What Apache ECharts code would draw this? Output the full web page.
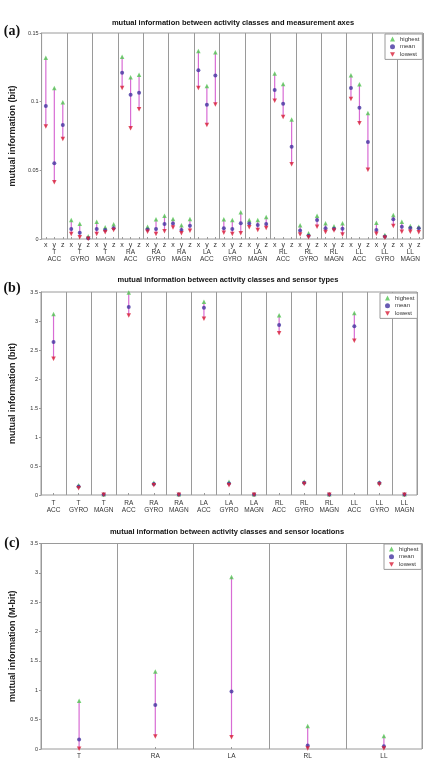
<!DOCTYPE html>
<html>
<head>
<meta charset="utf-8">
<script src="https://cdn.jsdelivr.net/npm/echarts@6/dist/echarts.min.js"></script>
<style>
  html, body { margin: 0; padding: 0; background: #fff; }
  #chart { width: 427px; height: 771px; }
</style>
</head>
<body>
<div id="chart"></div>
<script>
// categories
const locations = ['T', 'RA', 'LA', 'RL', 'LL']
const sensorTypes = ['ACC', 'GYRO', 'MAGN']
const axesNames = ['x', 'y', 'z']

// (a) per measurement axis, order: location -> sensor type -> x,y,z
const axisHighest = [
  0.132, 0.110, 0.0995, 0.0138, 0.0111, 0.002, 0.0126, 0.0085, 0.0107,
  0.1327, 0.1177, 0.1196, 0.009, 0.0143, 0.017, 0.0146, 0.0100, 0.0146,
  0.1369, 0.1114, 0.136, 0.0143, 0.0138, 0.0194, 0.0138, 0.0138, 0.016,
  0.1206, 0.1128, 0.0871, 0.010, 0.0041, 0.017, 0.0114, 0.0092, 0.0114,
  0.1192, 0.1126, 0.0917, 0.0119, 0.0029, 0.0175, 0.0126, 0.0095, 0.009
]
const axisMean = [
  0.0968, 0.0551, 0.083, 0.0073, 0.0046, 0.0005, 0.0073, 0.0066, 0.0078,
  0.121, 0.105, 0.1065, 0.007, 0.0073, 0.0109, 0.0112, 0.0066, 0.0097,
  0.1228, 0.0978, 0.119, 0.0078, 0.0073, 0.0114, 0.0112, 0.0102, 0.0109,
  0.1085, 0.0985, 0.0672, 0.0061, 0.0024, 0.0138, 0.0078, 0.0075, 0.0075,
  0.110, 0.0956, 0.0706, 0.0066, 0.0019, 0.0143, 0.009, 0.008, 0.0078
]
const axisLowest = [
  0.082, 0.0413, 0.0728, 0.0036, 0.0012, 0.0001, 0.0036, 0.0049, 0.0066,
  0.110, 0.0806, 0.0944, 0.0053, 0.0036, 0.0056, 0.0083, 0.0041, 0.006,
  0.110, 0.083, 0.098, 0.0046, 0.0036, 0.0041, 0.0085, 0.0066, 0.008,
  0.1007, 0.0888, 0.0544, 0.0032, 0.0012, 0.009, 0.0051, 0.0061, 0.0032,
  0.102, 0.0842, 0.0505, 0.0039, 0.001, 0.0095, 0.0053, 0.0053, 0.0049
]

// (b) per sensor type
const typeHighest = [3.12, 0.17, 0.015, 3.49, 0.21, 0.015, 3.33, 0.23, 0.015, 3.10, 0.23, 0.015, 3.14, 0.22, 0.015]
const typeMean = [2.64, 0.145, 0.01, 3.24, 0.19, 0.01, 3.23, 0.2, 0.01, 2.93, 0.21, 0.01, 2.91, 0.205, 0.01]
const typeLowest = [2.35, 0.115, 0.005, 3.095, 0.166, 0.005, 3.04, 0.166, 0.005, 2.79, 0.19, 0.005, 2.66, 0.183, 0.005]

// (c) per sensor location
const locHighest = [0.82, 1.32, 2.93, 0.39, 0.22]
const locMean = [0.16, 0.75, 0.98, 0.06, 0.045]
const locLowest = [0.003, 0.215, 0.2, 0.01, 0.01]

const COLOR_HI = '#52c652'
const COLOR_MEAN = '#4433a0'
const COLOR_LO = '#d8203a'
const COLOR_STEM = '#d86cd4'
const GRAY = '#9a9a9a'
const FONT = 'Liberation Sans'
const DOWN_TRI = 'path://M0,0L10,0L5,9Z'

// labels
const groupLabels = []
const xyzLabels = []
locations.forEach(loc => {
  sensorTypes.forEach(t => {
    groupLabels.push(loc + '\n' + t)
    axesNames.forEach(a => xyzLabels.push(a))
  })
})

const chart = echarts.init(document.getElementById('chart'), null, { renderer: 'canvas' })

function renderStem (params, api) {
  const p1 = api.coord([api.value(0), api.value(1)])
  const p2 = api.coord([api.value(0), api.value(2)])
  return {
    type: 'line',
    shape: { x1: p1[0], y1: p1[1], x2: p2[0], y2: p2[1] },
    style: { stroke: COLOR_STEM, lineWidth: 1.2 }
  }
}

// builds stem + three marker series for one panel
function panelSeries (xIdx, yIdx, hi, mean, lo) {
  const stems = hi.map((v, i) => [i, lo[i], v])
  const pts = arr => arr.map((v, i) => [i, v])
  return [
    {
      type: 'custom', xAxisIndex: xIdx, yAxisIndex: yIdx, silent: true,
      renderItem: renderStem, encode: { x: 0, y: [1, 2] }, data: stems, z: 1
    },
    { name: 'highest', type: 'scatter', xAxisIndex: xIdx, yAxisIndex: yIdx, symbol: 'triangle', symbolSize: 4.5, itemStyle: { color: COLOR_HI }, data: pts(hi), z: 3 },
    { name: 'mean', type: 'scatter', xAxisIndex: xIdx, yAxisIndex: yIdx, symbol: 'circle', symbolSize: 4, itemStyle: { color: COLOR_MEAN }, data: pts(mean), z: 3 },
    { name: 'lowest', type: 'scatter', xAxisIndex: xIdx, yAxisIndex: yIdx, symbol: DOWN_TRI, symbolSize: 4.5, itemStyle: { color: COLOR_LO }, data: pts(lo), z: 3 }
  ]
}

function yAxisCfg (gridIndex, max, interval, name) {
  return {
    type: 'value', gridIndex, min: 0, max, interval,
    name, nameLocation: 'middle', nameGap: 24,
    nameTextStyle: { fontFamily: FONT, fontWeight: 'bold', fontSize: 9, color: '#222' },
    axisLine: { show: true, lineStyle: { color: GRAY } },
    axisTick: { show: true, length: 2, lineStyle: { color: GRAY } },
    axisLabel: { fontFamily: FONT, fontSize: 5.5, color: '#333', margin: 3 },
    splitLine: { show: false }
  }
}

function legendCfg (left, top) {
  return {
    left, top, orient: 'vertical', selectedMode: false,
    itemWidth: 5, itemHeight: 5, itemGap: 0.7,
    padding: [1.5, 3, 1.5, 5],
    borderColor: GRAY, borderWidth: 1, backgroundColor: '#fff',
    textStyle: { fontFamily: FONT, fontSize: 6, color: '#333', lineHeight: 7 },
    data: [
      { name: 'highest', icon: 'triangle' },
      { name: 'mean', icon: 'circle' },
      { name: 'lowest', icon: DOWN_TRI }
    ]
  }
}

function textEl (x, y, text, size, family, weight) {
  return {
    type: 'text', x, y,
    style: { text, fontSize: size, fontFamily: family, fontWeight: weight, fill: '#111', align: 'center', verticalAlign: 'middle' }
  }
}

const groupLabelStyle = { fontFamily: FONT, fontSize: 6.5, color: '#333', lineHeight: 7, interval: 0 }

const option = {
  animation: false,
  backgroundColor: '#fff',
  graphic: [
    textEl(12, 31, '(a)', 14, 'Liberation Serif', 'bold'),
    textEl(12, 288, '(b)', 14, 'Liberation Serif', 'bold'),
    textEl(12, 543, '(c)', 14, 'Liberation Serif', 'bold'),
    textEl(233, 23, 'mutual information between activity classes and measurement axes', 7.5, FONT, 'bold'),
    textEl(228, 280, 'mutual information between activity classes and sensor types', 7.5, FONT, 'bold'),
    textEl(227, 532, 'mutual information between activity classes and sensor locations', 7.5, FONT, 'bold')
  ],
  legend: [legendCfg(385, 34), legendCfg(380, 293), legendCfg(384, 544)],
  grid: [
    { left: 34, top: 33, width: 389, height: 206, show: true, borderColor: GRAY, borderWidth: 1 },
    { left: 34, top: 292, width: 383, height: 203, show: true, borderColor: GRAY, borderWidth: 1 },
    { left: 34, top: 543.5, width: 388, height: 205.5, show: true, borderColor: GRAY, borderWidth: 1 }
  ],
  xAxis: [
    {
      type: 'category', gridIndex: 0, data: xyzLabels, position: 'bottom',
      axisLine: { show: false },
      axisTick: { show: true, inside: true, length: 2, alignWithLabel: true, interval: 0, lineStyle: { color: GRAY } },
      axisLabel: { fontFamily: FONT, fontSize: 7, color: '#333', margin: 3, interval: 0 },
      splitLine: { show: false }
    },
    {
      type: 'category', gridIndex: 0, data: groupLabels, position: 'bottom',
      axisLine: { show: false }, axisTick: { show: false },
      axisLabel: Object.assign({ margin: 9.5 }, groupLabelStyle),
      splitLine: { show: true, interval: 0, lineStyle: { color: GRAY, width: 1 } }
    },
    {
      type: 'category', gridIndex: 1, data: groupLabels,
      axisLine: { show: false },
      axisTick: { show: true, inside: true, length: 2, alignWithLabel: true, interval: 0, lineStyle: { color: GRAY } },
      axisLabel: Object.assign({ margin: 4.5 }, groupLabelStyle),
      splitLine: { show: true, interval: 0, lineStyle: { color: GRAY, width: 1 } }
    },
    {
      type: 'category', gridIndex: 2, data: locations,
      axisLine: { show: false },
      axisTick: { show: true, inside: true, length: 2, alignWithLabel: true, interval: 0, lineStyle: { color: GRAY } },
      axisLabel: Object.assign({ margin: 4 }, groupLabelStyle),
      splitLine: { show: true, interval: 0, lineStyle: { color: GRAY, width: 1 } }
    }
  ],
  yAxis: [
    yAxisCfg(0, 0.15, 0.05, 'mutual information (bit)'),
    yAxisCfg(1, 3.5, 0.5, 'mutual information (bit)'),
    yAxisCfg(2, 3.5, 0.5, 'mutual information (M-bit)')
  ],
  series: [
    ...panelSeries(0, 0, axisHighest, axisMean, axisLowest),
    ...panelSeries(2, 1, typeHighest, typeMean, typeLowest),
    ...panelSeries(3, 2, locHighest, locMean, locLowest)
  ]
}

chart.setOption(option)
</script>
</body>
</html>
